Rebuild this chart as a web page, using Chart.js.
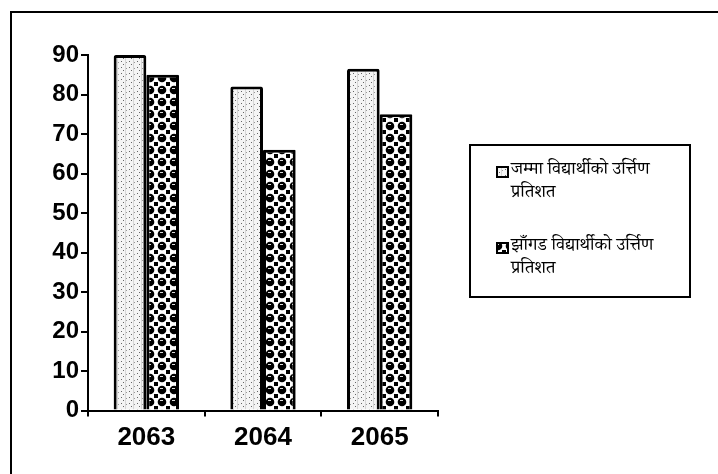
<!DOCTYPE html>
<html>
<head>
<meta charset="utf-8">
<script src="https://cdn.jsdelivr.net/npm/chart.js@4.4.1/dist/chart.umd.min.js"></script>
<style>
  html, body { margin: 0; padding: 0; background: #fff; }
  #wrap { position: relative; width: 718px; height: 474px; }
</style>
</head>
<body>
<div id="wrap"><canvas id="myChart" width="718" height="474"></canvas></div>
<script>
var categories = ['2063', '2064', '2065'];
var totalPass = [90, 82, 86.5];
var girlsPass = [85, 66, 75];
var seriesNames = [
  ['जम्मा विद्यार्थीको उर्त्तिण', 'प्रतिशत'],
  ['झाँगड विद्यार्थीको उर्त्तिण', 'प्रतिशत']
];
var yTicks = [0, 10, 20, 30, 40, 50, 60, 70, 80, 90];

var devFont = '"Noto Serif Devanagari", "Noto Sans Devanagari", "Lohit Devanagari", "FreeSerif", serif';

// dotted light pattern for first series
function dotPattern() {
  var c = document.createElement('canvas');
  c.width = 8; c.height = 6;
  var g = c.getContext('2d');
  g.fillStyle = '#f4f4f4';
  g.fillRect(0, 0, 8, 6);
  g.fillStyle = '#d6d6d6';
  g.fillRect(5, 0, 1, 6);
  g.fillStyle = '#666';
  g.fillRect(1, 1, 1, 1);
  g.fillRect(3, 4, 1, 1);
  g.fillStyle = '#999';
  g.fillRect(6, 2, 1, 1);
  return g.createPattern(c, 'repeat');
}

// black/white bubble pattern for second series
function bubblePattern() {
  var c = document.createElement('canvas');
  c.width = 12; c.height = 12;
  var g = c.getContext('2d');
  g.fillStyle = '#fff';
  g.fillRect(0, 0, 12, 12);
  g.fillStyle = '#000';
  g.beginPath();
  g.arc(6, 6, 4.3, 0, Math.PI * 2);
  g.fill();
  g.fillRect(0, 0, 2, 2);
  g.fillRect(10, 10, 2, 2);
  g.fillRect(10, 0, 2, 2);
  g.fillRect(0, 10, 2, 2);
  g.fillStyle = '#ddd';
  g.fillRect(4, 4, 3, 1);
  return g.createPattern(c, 'repeat');
}

var pat1 = dotPattern();
var pat2 = bubblePattern();

var framePlugin = {
  id: 'frame',
  beforeDraw: function(chart) {
    var ctx = chart.ctx;
    ctx.save();
    ctx.strokeStyle = '#000';
    ctx.lineWidth = 2;
    ctx.strokeRect(11, 12, 740, 500);
    ctx.restore();
  },
  afterDraw: function(chart) {
    var ctx = chart.ctx;
    ctx.save();
    // legend box
    ctx.strokeStyle = '#000';
    ctx.lineWidth = 2;
    ctx.strokeRect(470, 145, 220, 152);
    var pats = [pat1, pat2];
    var tops = [167, 243];
    for (var i = 0; i < seriesNames.length; i++) {
      var y = tops[i];
      ctx.fillStyle = pats[i];
      ctx.fillRect(497, y, 11, 10);
      ctx.lineWidth = 2;
      ctx.strokeRect(497, y, 11, 10);
      ctx.fillStyle = '#000';
      ctx.font = '18px ' + devFont;
      ctx.textBaseline = 'middle';
      ctx.textAlign = 'left';
      ctx.fillText(seriesNames[i][0], 511, y + 5);
      ctx.fillText(seriesNames[i][1], 511, y + 28);
    }
    ctx.restore();
  }
};

var ctx = document.getElementById('myChart');

var myChart = new Chart(ctx, {
  type: 'bar',
  data: {
    labels: categories,
    datasets: [
      {
        label: seriesNames[0].join(' '),
        data: totalPass,
        backgroundColor: pat1,
        borderColor: '#000',
        borderWidth: 3,
        borderSkipped: 'bottom',
        borderRadius: { topLeft: 2, topRight: 2 }
      },
      {
        label: seriesNames[1].join(' '),
        data: girlsPass,
        backgroundColor: pat2,
        borderColor: '#000',
        borderWidth: 3,
        borderSkipped: 'bottom',
        borderRadius: { topLeft: 1, topRight: 1 }
      }
    ]
  },
  options: {
    responsive: false,
    animation: false,
    layout: { padding: { top: 55, right: 280, left: 0, bottom: 0 } },
    plugins: {
      legend: { display: false },
      tooltip: { enabled: false }
    },
    datasets: {
      bar: { categoryPercentage: 0.56, barPercentage: 1.0 }
    },
    scales: {
      x: {
        grid: {
          drawOnChartArea: false,
          color: '#000',
          lineWidth: 2,
          tickLength: 6,
          offset: true
        },
        border: { color: '#000', width: 2 },
        ticks: {
          color: '#000',
          font: { family: 'Liberation Sans, Arial, sans-serif', size: 26, weight: 'bold' },
          padding: 6
        },
        afterFit: function(scale) { scale.height = 63.5; }
      },
      y: {
        min: 0,
        max: 90,
        afterBuildTicks: function(scale) {
          scale.ticks = yTicks.map(function(v) { return { value: v }; });
        },
        grid: {
          drawOnChartArea: false,
          color: '#000',
          lineWidth: 2,
          tickLength: 7
        },
        border: { color: '#000', width: 2 },
        ticks: {
          color: '#000',
          font: { family: 'Liberation Sans, Arial, sans-serif', size: 24, weight: 'bold' },
          padding: 2
        },
        afterFit: function(scale) { scale.width = 88; }
      }
    }
  },
  plugins: [framePlugin]
});
</script>
</body>
</html>
